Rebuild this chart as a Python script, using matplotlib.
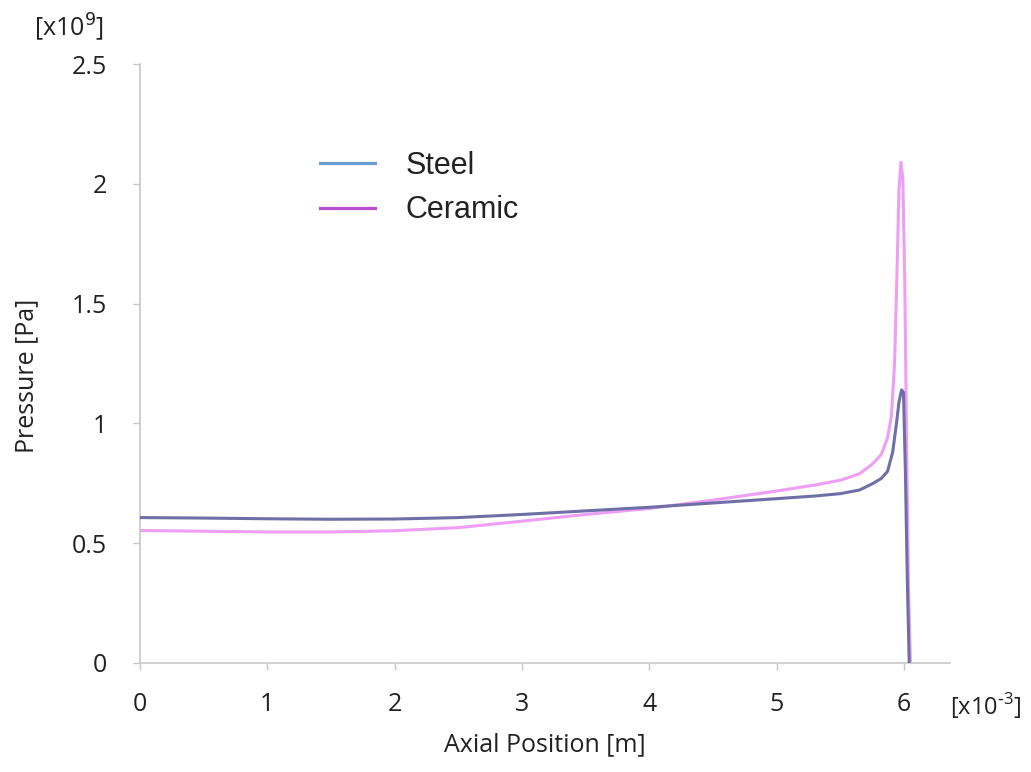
import matplotlib
matplotlib.use("Agg")
import matplotlib.pyplot as plt

# axial position [x1e-3 m] and pressure [x1e9 Pa]
steel_x = [0, 0.5, 1, 1.5, 2, 2.5, 3, 3.5, 4, 4.5, 5, 5.3, 5.5, 5.65, 5.75,
           5.82, 5.87, 5.91, 5.94, 5.96, 5.98, 5.995, 6.01, 6.025, 6.04]
steel_p = [0.607, 0.605, 0.602, 0.600, 0.601, 0.607, 0.620, 0.635, 0.650, 0.668,
           0.686, 0.697, 0.707, 0.722, 0.748, 0.77, 0.80, 0.88, 1.0, 1.09,
           1.14, 1.13, 0.8, 0.35, 0.0]

ceramic_x = [0, 0.5, 1, 1.5, 2, 2.5, 3, 3.5, 4, 4.5, 5, 5.3, 5.5, 5.65, 5.75,
             5.82, 5.87, 5.9, 5.925, 5.945, 5.96, 5.975, 5.99, 6.005, 6.02, 6.035, 6.05]
ceramic_p = [0.553, 0.550, 0.547, 0.547, 0.552, 0.565, 0.592, 0.620, 0.645, 0.680,
             0.718, 0.743, 0.763, 0.79, 0.83, 0.87, 0.94, 1.03, 1.25, 1.65,
             1.98, 2.09, 2.02, 1.6, 0.9, 0.3, 0.0]

x_ticks = [0, 1, 2, 3, 4, 5, 6]
y_ticks = [0, 0.5, 1, 1.5, 2, 2.5]
y_tick_labels = ["0", "0.5", "1", "1.5", "2", "2.5"]

plt.rcParams['font.family'] = ['Open Sans', 'DejaVu Sans']

fig = plt.figure(figsize=(10.31, 7.72), dpi=100)
ax = fig.add_axes([0.1358, 0.1412, 0.7856, 0.7758])

ax.plot(steel_x, steel_p, color='#6e6fa6', lw=2.2, label='Steel', zorder=3)
ax.plot(ceramic_x, ceramic_p, color='#ee9ef4', lw=2.2, label='Ceramic', zorder=2)

ax.set_xlim(0, 6.36)
ax.set_ylim(0, 2.5)
ax.set_xticks(x_ticks)
ax.set_xticklabels([str(t) for t in x_ticks])
ax.set_yticks(y_ticks)
ax.set_yticklabels(y_tick_labels)

for s in ['top', 'right']:
    ax.spines[s].set_visible(False)
for s in ['left', 'bottom']:
    ax.spines[s].set_color('#c8c8c8')
    ax.spines[s].set_linewidth(1.2)
ax.tick_params(axis='both', colors='#c8c8c8', length=5, width=1.0,
               labelsize=18, labelcolor='#222222')
ax.tick_params(axis='y', pad=19)
ax.tick_params(axis='x', pad=16)

ax.set_xlabel('Axial Position [m]', fontsize=18, color='#222222')
ax.set_ylabel('Pressure [Pa]', fontsize=18, color='#222222')
ax.xaxis.set_label_coords(0.5, -0.137)
ax.yaxis.set_label_coords(-0.14, 0.48)
ax.xaxis.label.set_va('center')
ax.yaxis.label.set_va('center')

fig.text(0.033, 0.965, r'[x10$^{9}$]', fontsize=18, color='#222222', va='center')
fig.text(0.921, 0.086, r'[x10$^{\mathregular{\text{-}3}}$]', fontsize=17,
         color='#222222', va='center')

leg = ax.legend(loc='upper left', bbox_to_anchor=(0.284, 0.840),
                bbox_transform=fig.transFigure, frameon=False,
                prop={'family': 'Liberation Sans', 'size': 22},
                handlelength=1.8, handletextpad=1.0, labelspacing=0.47)
leg_colors = ['#6c9bd2', '#b94fd0']
for line, c in zip(leg.get_lines(), leg_colors):
    line.set_color(c)
    line.set_linewidth(2.3)
for t in leg.get_texts():
    t.set_color('#222222')

fig.savefig('out.png', dpi=100)
